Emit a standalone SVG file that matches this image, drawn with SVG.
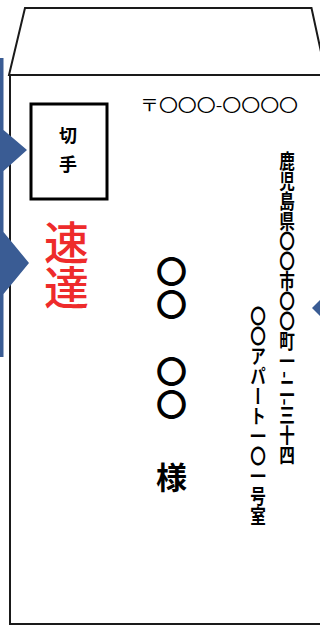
<svg xmlns="http://www.w3.org/2000/svg" width="320" height="626" viewBox="0 0 320 626">
<style>
.line{fill:none;stroke:#1a1a1a;stroke-width:2;stroke-linejoin:miter}
.blue{fill:#3A5C94}
.jp{font-family:"Noto Sans CJK JP","Noto Sans CJK SC",sans-serif}
.v{writing-mode:vertical-rl}
.addr{font-size:20px;font-weight:700;fill:#000}
.name{font-size:31px;font-weight:700;fill:#000;letter-spacing:1.5px}
.stamp{font-size:18px;font-weight:700;fill:#000;letter-spacing:11px}
.sokutatsu{font-size:45px;font-weight:500;fill:#EE2B2B}
.zip{font-size:16px;fill:#000}
</style>
<g id="envelope">
<path class="line" d="M9,75 L25,8 L311.5,8 L326,75 Z"/>
<path class="line" d="M10,75 V624 H325"/>
</g>
<g id="callouts">
<path class="blue" d="M0,58 H3.5 V130 L27,150 L3.5,171 V232 L29,263 L3.5,294 V357 H0 Z"/>
<path class="blue" d="M312,308 L320,300 L320,316 Z"/>
</g>
<g id="stamp">
<rect x="31" y="104" width="76" height="95" fill="#fff" stroke="#000" stroke-width="3"/>
<text class="jp v stamp" x="68" y="126">切手</text>
</g>
<g id="express">
<text class="jp v sokutatsu" x="66.5" y="220">速達</text>
</g>
<g id="postal">
<text class="jp zip" x="140" y="110.5" textLength="158" lengthAdjust="spacingAndGlyphs">〒〇〇〇-〇〇〇〇</text>
</g>
<g id="address">
<text class="jp v addr" x="0" y="151" transform="translate(287 0) scale(0.78 1)">鹿児島県〇〇市〇〇町一-二-三十四</text>
<text class="jp v addr" x="0" y="306" transform="translate(258 0) scale(0.78 1)">〇〇アパート一〇一号室</text>
</g>
<g id="recipient">
<text class="jp v name" x="171.5"><tspan y="256">〇〇</tspan><tspan y="356">〇〇</tspan><tspan y="462">様</tspan></text>
</g>
</svg>
